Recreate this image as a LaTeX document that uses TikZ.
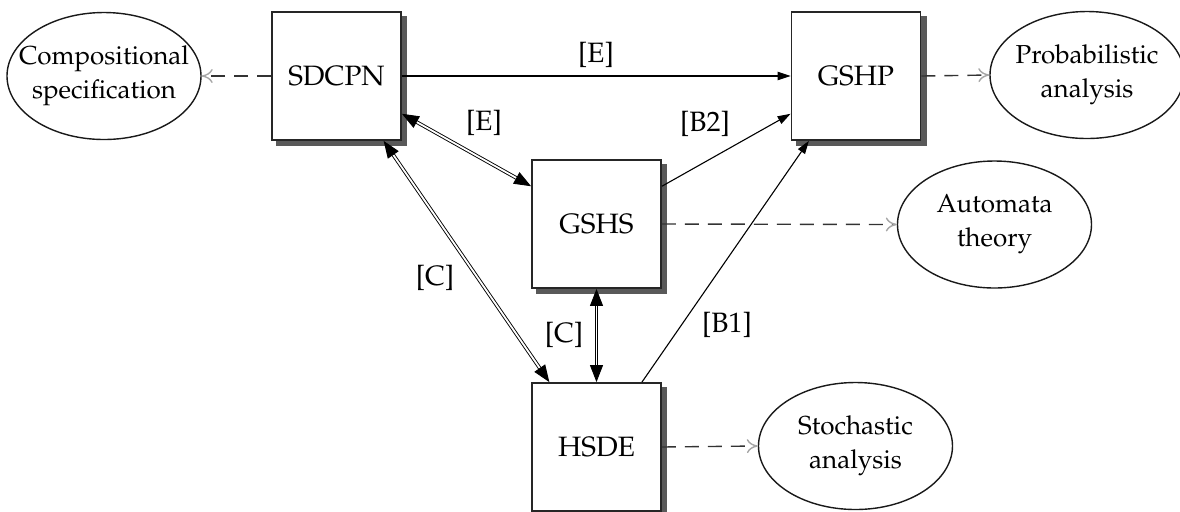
\documentclass[tikz,border=0pt]{standalone}
\usepackage[T1]{fontenc}
\usepackage{mathpazo}
\usetikzlibrary{arrows.meta,shapes.geometric,backgrounds}
\begin{document}
\begin{tikzpicture}[x=0.5pt,y=-0.5pt,
  txt/.style={font=\fontsize{14}{17}\selectfont},
  box/.style={txt, draw=black!85, line width=0.9pt, fill=white,
    minimum width=64.5pt, minimum height=64pt, inner sep=0pt},
  shade/.style={fill=black!65},
  ell/.style={ellipse, draw=black!90, line width=0.7pt, minimum width=97pt, minimum height=63.5pt, inner sep=0pt},
  etxt/.style={font=\fontsize{13}{17}\selectfont, align=center},
  lbl/.style={txt, inner sep=1pt},
  dashline/.style={draw=black!80, line width=0.7pt, dash pattern=on 7pt off 4.5pt,
    -{To[length=5.5pt,width=7pt,color=black!35]}},
  single/.style={line width=0.55pt, -{Triangle[length=6.5pt,width=4.2pt]}},
  dbl/.style={line width=0.45pt, double, double distance=0.9pt,
    {Triangle[length=8.5pt,width=6.5pt]}-{Triangle[length=8.5pt,width=6.5pt]}}
]
\useasboundingbox (0,0) rectangle (1180,511);

% boxes
\node[box] (sdcpn) at (336.5,76) {SDCPN};
\node[box] (gshp)  at (856,76)   {GSHP};
\node[box] (gshs)  at (596.5,224) {GSHS};
\node[box] (hsde)  at (596.5,447) {HSDE};

% shadows
\begin{scope}[on background layer]
  \foreach \b in {sdcpn,gshp,gshs,hsde}
    \fill[shade] ([xshift=2.6pt,yshift=-2.6pt]\b.south west) rectangle ([xshift=2.6pt,yshift=-2.6pt]\b.north east);
\end{scope}

% ellipses
\node[ell, label={[etxt]center:Compositional\\specification}] (comp) at (104,76) {};
\node[ell, label={[etxt]center:Probabilistic\\analysis}] (prob) at (1087,75) {};
\node[ell, label={[etxt]center:Automata\\theory}] (auto) at (994.5,224.5) {};
\node[ell, label={[etxt]center:Stochastic\\analysis}] (stoch) at (855.5,446) {};

% dashed connectors
\draw[dashline] (sdcpn.west) -- (comp.east);
\draw[dashline] (gshp.east) -- (prob.west);
\draw[dashline] (gshs.east) -- (auto.west);
\draw[dashline] (hsde.east) -- (stoch.west);

% solid connectors
\draw[single] (sdcpn.east) -- (gshp.west);
\draw[single] (gshs.30) -- (gshp.210);
\draw[single] (hsde.55) -- (gshp.234);
\draw[dbl] (sdcpn.-30) -- (gshs.150);
\draw[dbl] (sdcpn.-54) -- (hsde.126);
\draw[dbl] (gshs.south) -- (hsde.north);

% labels
\node[lbl] (lE1) at (596,55) {[E]};
\node[lbl] (lE2) at (484,123) {[E]};
\node[lbl] (lB2) at (705,124) {[B2]};
\node[lbl] (lC1) at (435,278) {[C]};
\node[lbl] (lC2) at (564,335) {[C]};
\node[lbl] (lB1) at (727,325) {[B1]};
\end{tikzpicture}
\end{document}
